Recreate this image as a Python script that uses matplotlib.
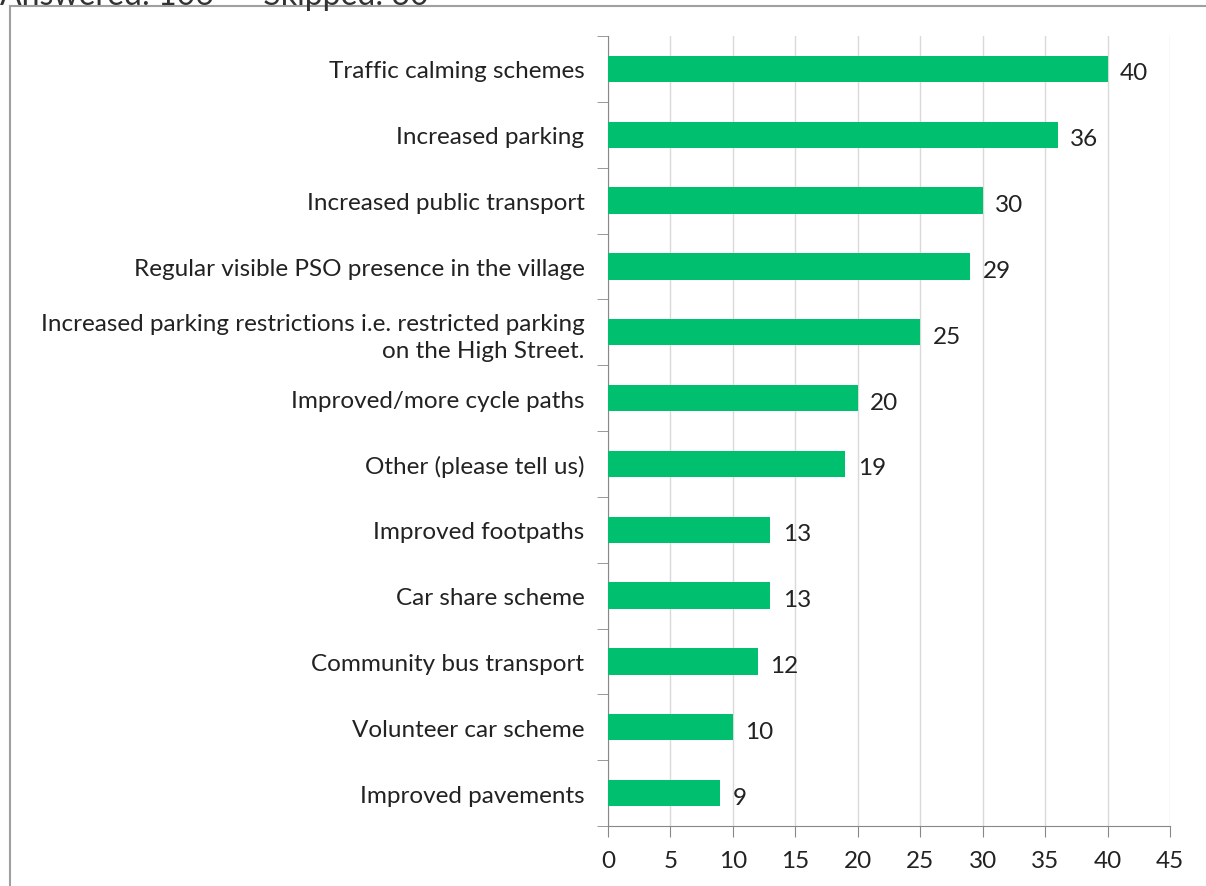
import matplotlib.pyplot as plt
from matplotlib.patches import Rectangle

plt.rcParams["font.family"] = ["Lato", "DejaVu Sans"]

# Survey answers (top to bottom as shown)
categories = [
    "Traffic calming schemes",
    "Increased parking",
    "Increased public transport",
    "Regular visible PSO presence in the village",
    "Increased parking restrictions i.e. restricted parking\non the High Street.",
    "Improved/more cycle paths",
    "Other (please tell us)",
    "Improved footpaths",
    "Car share scheme",
    "Community bus transport",
    "Volunteer car scheme",
    "Improved pavements",
]
counts = [40, 36, 30, 29, 25, 20, 19, 13, 13, 12, 10, 9]
xticks = [0, 5, 10, 15, 20, 25, 30, 35, 40, 45]

fig = plt.figure(figsize=(12.06, 8.87), dpi=100)
W, H = 1206, 887
ax = fig.add_axes([608 / W, 1 - 827 / H, (1170 - 608) / W, (827 - 37) / H])

ypos = list(range(len(categories)))
ax.barh(ypos, counts, height=0.4, color="#00BF6F", zorder=3)
for y, v in zip(ypos, counts):
    ax.text(v + 1.0, y + 0.06, str(v), va="center", ha="left", fontsize=17.5, color="#222222")

ax.set_ylim(len(categories) - 0.5, -0.5)
ax.set_xlim(0, 45)
ax.set_xticks(xticks)
ax.set_yticks(ypos)
ax.set_yticklabels(categories, fontsize=17.5, color="#222222", ha="right")
ax.set_yticks([i - 0.5 for i in range(len(categories) + 1)], minor=True)
ax.tick_params(axis="y", which="major", length=0, pad=17)
ax.tick_params(axis="y", which="minor", length=8, color="#888888")
ax.tick_params(axis="x", length=8, color="#888888", labelsize=17.5, labelcolor="#222222", pad=9)
for lbl in ax.get_yticklabels():
    lbl.set_multialignment("right")
    lbl.set_linespacing(1.35)

ax.grid(axis="x", color="#d9d9d9", linewidth=1, zorder=0)
for s in ["top", "right"]:
    ax.spines[s].set_visible(False)
ax.spines["left"].set_color("#888888")
ax.spines["bottom"].set_color("#888888")

# outer frame and the clipped header text
fig.patches.append(Rectangle((10 / W, -0.1), 1.2, 1 - 7 / H + 0.1, transform=fig.transFigure,
                             fill=False, edgecolor="#a0a0a0", linewidth=1.5))
fig.text(0.0, 1 - 5 / H, "Answered: 106      Skipped: 30", fontsize=23, color="#333333",
         ha="left", va="baseline")

fig.savefig("out.png", dpi=100)
